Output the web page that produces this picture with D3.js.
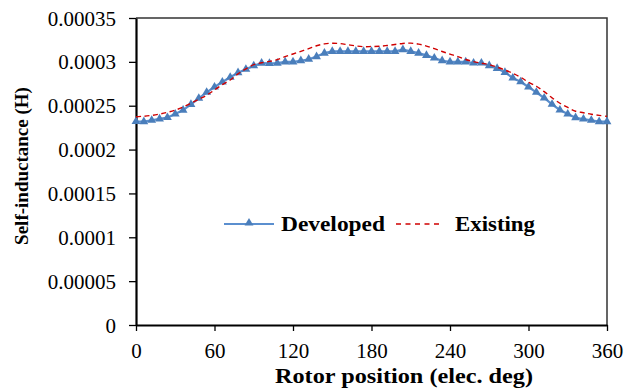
<!DOCTYPE html>
<html>
<head>
<meta charset="utf-8">
<script src="https://cdn.jsdelivr.net/npm/d3@7"></script>
<style>
  html, body { margin: 0; padding: 0; background: #fff; }
  svg { display: block; }
  text { font-family: "Liberation Serif", "Times New Roman", serif; fill: #000; }
</style>
</head>
<body>
<svg id="chart" width="638" height="390"></svg>
<script>
// Rotor position samples (electrical degrees), one every 6 degrees
const rotorAngles = d3.range(0, 361, 6);

// Self-inductance of the developed model (H)
const developed = [
  0.0002320, 0.0002318, 0.0002334, 0.0002350, 0.0002365, 0.0002405, 0.0002450, 0.0002515,
  0.0002585, 0.0002653, 0.0002713, 0.0002770, 0.0002824, 0.0002876, 0.0002915, 0.0002955,
  0.0002985, 0.0002983, 0.0002985, 0.0003000, 0.0003000, 0.0003013, 0.0003030, 0.0003060,
  0.0003100, 0.0003120, 0.0003120, 0.0003120, 0.0003120, 0.0003120, 0.0003120, 0.0003120,
  0.0003120, 0.0003120, 0.0003140, 0.0003120, 0.0003100, 0.0003074, 0.0003044, 0.0003013,
  0.0003000, 0.0003000, 0.0003000, 0.0002987, 0.0002987, 0.0002956, 0.0002925, 0.0002880,
  0.0002816, 0.0002773, 0.0002713, 0.0002653, 0.0002588, 0.0002516, 0.0002451, 0.0002405,
  0.0002363, 0.0002348, 0.0002334, 0.0002318, 0.0002318
];

// Self-inductance of the existing model (H)
const existing = [
  0.0002375, 0.0002380, 0.0002390, 0.0002405, 0.0002425, 0.0002450, 0.0002485, 0.0002528,
  0.0002573, 0.0002620, 0.0002680, 0.0002740, 0.0002793, 0.0002863, 0.0002920, 0.0002968,
  0.0002990, 0.0003005, 0.0003025, 0.0003060, 0.0003090, 0.0003120, 0.0003150, 0.0003184,
  0.0003205, 0.0003212, 0.0003208, 0.0003195, 0.0003182, 0.0003173, 0.0003175, 0.0003178,
  0.0003187, 0.0003198, 0.0003210, 0.0003213, 0.0003202, 0.0003180, 0.0003150, 0.0003118,
  0.0003088, 0.0003060, 0.0003027, 0.0003003, 0.0002985, 0.0002968, 0.0002940, 0.0002907,
  0.0002870, 0.0002825, 0.0002768, 0.0002722, 0.0002660, 0.0002590, 0.0002528, 0.0002480,
  0.0002437, 0.0002420, 0.0002403, 0.0002390, 0.0002379
];

// Axis ticks and their printed labels
const xTicks = [0, 60, 120, 180, 240, 300, 360];
const yTicks = [0, 0.00005, 0.0001, 0.00015, 0.0002, 0.00025, 0.0003, 0.00035];
const yTickLabels = ["0", "0.00005", "0.0001", "0.00015", "0.0002", "0.00025", "0.0003", "0.00035"];

const seriesNames = ["Developed", "Existing"];

const svg = d3.select("#chart");
const plot = { left: 136, right: 607, top: 18, bottom: 325 };

const x = d3.scaleLinear().domain([0, 360]).range([plot.left, plot.right]);
const y = d3.scaleLinear().domain([0, 0.00035]).range([plot.bottom, plot.top]);

// Plot frame (top and right edges)
svg.append("path")
  .attr("d", `M${plot.left},${plot.top}H${plot.right}V${plot.bottom}`)
  .attr("fill", "none").attr("stroke", "#333").attr("stroke-width", 1.5);

// X axis
const xAxis = svg.append("g")
  .attr("transform", `translate(0,${plot.bottom})`)
  .call(d3.axisBottom(x).tickValues(xTicks).tickSize(6).tickSizeOuter(0).tickPadding(12));
xAxis.select(".domain").attr("stroke", "#000").attr("stroke-width", 1.8);
xAxis.selectAll(".tick line").attr("stroke", "#000").attr("stroke-width", 1.3);
xAxis.selectAll(".tick text")
  .style("font-size", "21px").attr("font-family", "Liberation Serif");

// Y axis
const yAxis = svg.append("g")
  .attr("transform", `translate(${plot.left},0)`)
  .call(d3.axisLeft(y).tickValues(yTicks)
    .tickFormat((d, i) => yTickLabels[i])
    .tickSize(7).tickSizeOuter(0).tickPadding(13));
yAxis.select(".domain").attr("stroke", "#000").attr("stroke-width", 2.2);
yAxis.selectAll(".tick line").attr("stroke", "#000").attr("stroke-width", 1.3);
yAxis.selectAll(".tick text")
  .style("font-size", "21px").attr("font-family", "Liberation Serif")
  .attr("dy", "0.34em");

// Developed series: solid blue line with triangle markers
const devData = rotorAngles.map((a, i) => [a, developed[i]]);
const exData = rotorAngles.map((a, i) => [a, existing[i]]);

svg.append("path")
  .datum(devData)
  .attr("fill", "none")
  .attr("stroke", "#5b8fcf")
  .attr("stroke-width", 2.2)
  .attr("d", d3.line().x(d => x(d[0])).y(d => y(d[1])));

const tri = d3.symbol().type(d3.symbolTriangle).size(34);
svg.append("g").selectAll("path")
  .data(devData)
  .join("path")
  .attr("transform", d => `translate(${x(d[0])},${y(d[1])})`)
  .attr("d", tri)
  .attr("fill", "#4a7ebb");

// Existing series: dashed red curve
svg.append("path")
  .datum(exData)
  .attr("fill", "none")
  .attr("stroke", "#d00000")
  .attr("stroke-width", 1.4)
  .attr("stroke-dasharray", "5,3.5")
  .attr("d", d3.line().curve(d3.curveCatmullRom).x(d => x(d[0])).y(d => y(d[1])));

// Legend
const legY = 224;
svg.append("line")
  .attr("x1", 224).attr("x2", 274).attr("y1", legY).attr("y2", legY)
  .attr("stroke", "#5b8fcf").attr("stroke-width", 1.8);
svg.append("path")
  .attr("transform", `translate(249,${legY - 1})`)
  .attr("d", tri).attr("fill", "#4a7ebb");
svg.append("text")
  .attr("x", 281).attr("y", legY + 7)
  .attr("font-weight", "bold").style("font-size", "21px")
  .attr("textLength", 104).attr("lengthAdjust", "spacingAndGlyphs")
  .text(seriesNames[0]);
svg.append("line")
  .attr("x1", 396).attr("x2", 442).attr("y1", legY).attr("y2", legY)
  .attr("stroke", "#d00000").attr("stroke-width", 1.4)
  .attr("stroke-dasharray", "5,4.5");
svg.append("text")
  .attr("x", 455).attr("y", legY + 7)
  .attr("font-weight", "bold").style("font-size", "21px")
  .attr("textLength", 80).attr("lengthAdjust", "spacingAndGlyphs")
  .text(seriesNames[1]);

// Axis titles
svg.append("text")
  .attr("x", 275).attr("y", 383)
  .attr("font-weight", "bold").style("font-size", "20px")
  .attr("textLength", 258).attr("lengthAdjust", "spacingAndGlyphs")
  .text("Rotor position  (elec. deg)");

svg.append("text")
  .attr("transform", "translate(28,166) rotate(-90)")
  .attr("text-anchor", "middle")
  .attr("font-weight", "bold").style("font-size", "19px")
  .text("Self-inductance  (H)");
</script>
</body>
</html>
